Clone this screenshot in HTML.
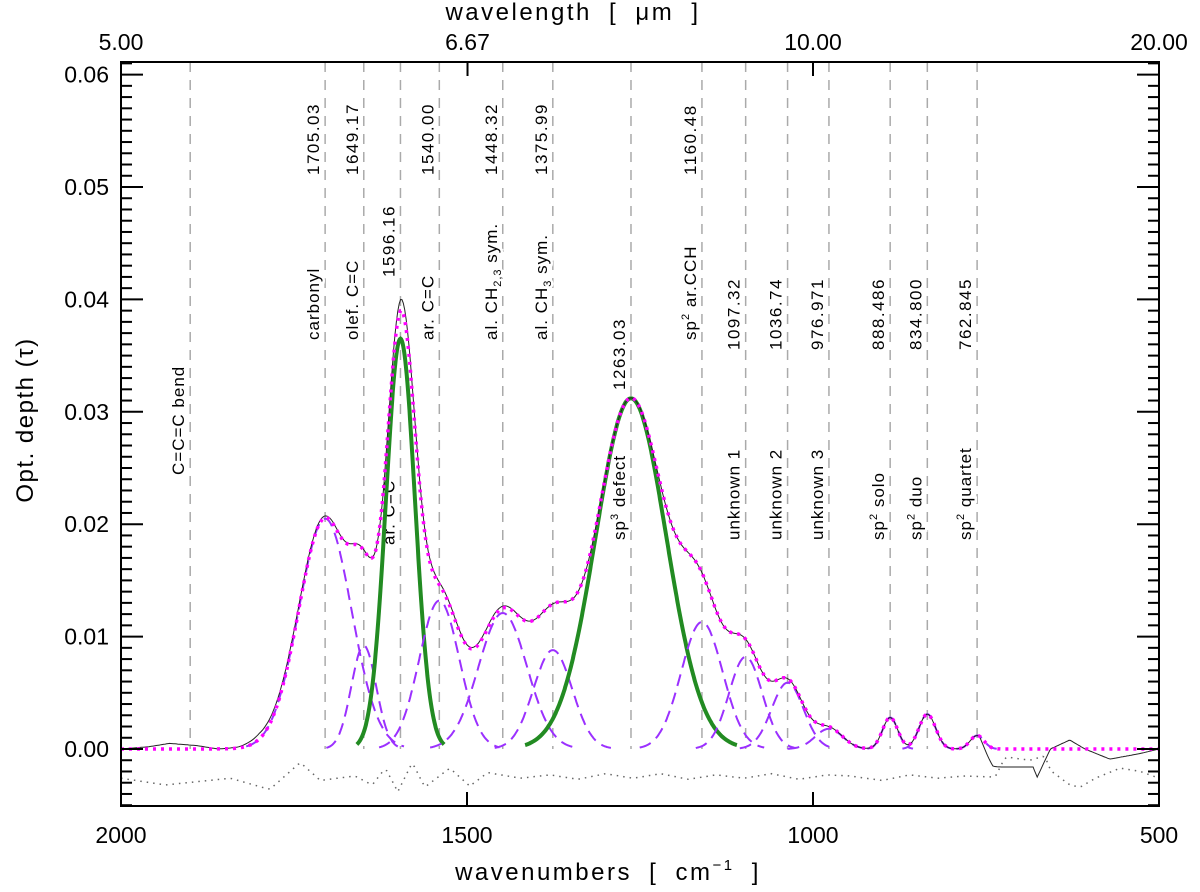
<!DOCTYPE html>
<html><head><meta charset="utf-8"><style>
html,body{margin:0;padding:0;background:#fff;}
svg{display:block;font-family:"Liberation Sans",sans-serif;}
</style></head><body>
<svg id="chart" width="1200" height="892" viewBox="0 0 1200 892" xmlns="http://www.w3.org/2000/svg"></svg>
<script>
// ---- data ----
const centers = [1705.03,1649.17,1596.16,1540.00,1448.32,1375.99,1263.03,1160.48,1097.32,1036.74,976.971,888.486,834.800,762.845];
const heights = [0.0205,0.0092,0.0365,0.0132,0.0121,0.0088,0.0312,0.0113,0.0082,0.0059,0.0018,0.0028,0.0031,0.0012];
const sigmas  = [38,18,21,29,35,28,51,30,24,23,20,11,12,10];
const isMain  = [0,0,1,0,0,0,1,0,0,0,0,0,0,0];
const obsWn    = [2000,1960,1930,1890,1860,1830,1800,1760,1720,1680,1620,1596,1560,1500,1460,1400,1300,1200,1100,1000,900,800,760,740,722,682,676,657,629,607,571,527,500];
const obsDelta = [0,0.0002,0.0005,0.0003,0,0.0001,0.0005,0.0004,0.0002,0.0001,0,0.001,0.0003,0.0001,0.0002,0,0,0,0,0,0,0,0,-0.0016,-0.0016,-0.0016,-0.0025,0,0.0008,0,-0.0009,-0.0004,0];
const resWn  = [2000,1936,1842,1785,1741,1712,1662,1637,1618,1600,1579,1561,1525,1496,1470,1423,1380,1340,1300,1260,1220,1180,1140,1100,1060,1020,980,947,900,860,820,780,737,722,686,665,657,629,614,592,556,527,500];
const resVal = [-0.0026,-0.0032,-0.0026,-0.0036,-0.0012,-0.0028,-0.0024,-0.0032,-0.0017,-0.0038,-0.0012,-0.0034,-0.0017,-0.0033,-0.0021,-0.0026,-0.0023,-0.0027,-0.0022,-0.0026,-0.0022,-0.0027,-0.0023,-0.0026,-0.0022,-0.0027,-0.0023,-0.0024,-0.0028,-0.0023,-0.0026,-0.0024,-0.0025,-0.0007,-0.001,-0.0006,-0.0019,-0.0032,-0.0034,-0.0026,-0.0017,-0.002,-0.0026];
const bottomTicks = [2000,1500,1000,500];
const topTicks = [5.00,6.67,10.00,20.00];
const yTicks = [0,0.01,0.02,0.03,0.04,0.05,0.06];
const labelWn = [1900,1705.03,1649.17,1596.16,1540.00,1448.32,1375.99,1263.03,1160.48,1097.32,1036.74,976.971,888.486,834.800,762.845];
const labelNum = ["","1705.03","1649.17","1596.16","1540.00","1448.32","1375.99","1263.03","1160.48","1097.32","1036.74","976.971","888.486","834.800","762.845"];
const labelName = ["C=C=C bend","carbonyl","olef. C=C","ar. C=C","ar. C=C","al. CH<tspan font-size='11' dy='4'>2,3</tspan><tspan dy='-4'> sym.</tspan>","al. CH<tspan font-size='11' dy='4'>3</tspan><tspan dy='-4'> sym.</tspan>","sp<tspan font-size='11' dy='-7'>3</tspan><tspan dy='7'> defect</tspan>","sp<tspan font-size='11' dy='-7'>2</tspan><tspan dy='7'> ar.CCH</tspan>","unknown 1","unknown 2","unknown 3","sp<tspan font-size='11' dy='-7'>2</tspan><tspan dy='7'> solo</tspan>","sp<tspan font-size='11' dy='-7'>2</tspan><tspan dy='7'> duo</tspan>","sp<tspan font-size='11' dy='-7'>2</tspan><tspan dy='7'> quartet</tspan>"];
const numBottom  = [0,175,175,277,175,175,175,390,175,350,350,350,350,350,350];
const nameBottom = [475,340,340,545,340,340,340,540,340,540,540,540,540,540,540];

// ---- axes ----
const L=121,R=1159,T=62,B=806;
const X = w => L + (2000-w)*(R-L)/1500;
const Y = v => 749 - v*11240;
const svg = document.getElementById('chart');
const NS='http://www.w3.org/2000/svg';
function mk(tag, attrs, parent){const e=document.createElementNS(NS,tag);for(const k in attrs)e.setAttribute(k,attrs[k]);(parent||svg).appendChild(e);return e;}
function interp(xs,ys,w){for(let i=0;i<xs.length-1;i++){const a=xs[i],b=xs[i+1];if((w<=a&&w>=b)){const t=(a-w)/(a-b);return ys[i]+t*(ys[i+1]-ys[i]);}}return ys[ys.length-1];}
const gauss=(i,w)=>heights[i]*Math.exp(-0.5*Math.pow((w-centers[i])/sigmas[i],2));
const model=w=>{let s=0;for(let i=0;i<centers.length;i++)s+=gauss(i,w);return s;};

// vertical dashed lines
labelWn.forEach((w,i)=>{
  const l=mk('line',{x1:X(w),x2:X(w),y1:T,y2:749,stroke:'#aaa','stroke-width':1.5,'stroke-dasharray':'10,8'});
  
  
});
// labels
labelWn.forEach((w,i)=>{
  const x=X(w)-6;
  if(labelNum[i]){
    const t=mk('text',{transform:`translate(${x},${numBottom[i]}) rotate(-90)`,'font-size':17,'letter-spacing':1.5,fill:'#000',stroke:'#fff','stroke-width':5,'paint-order':'stroke'});
    t.textContent=labelNum[i];
    
    
  }
  const n=mk('text',{transform:`translate(${x},${nameBottom[i]}) rotate(-90)`,'font-size':17,'letter-spacing':1,fill:'#000',stroke:'#fff','stroke-width':5,'paint-order':'stroke'});
  n.innerHTML=labelName[i];
  
  
});

// residual
let d='';
for(let w=2000;w>=500;w-=4){d+=(d?'L':'M')+X(w).toFixed(1)+','+Y(interp(resWn,resVal,w)).toFixed(1);}
const rp=mk('path',{d,fill:'none',stroke:'#666','stroke-width':1.5,'stroke-dasharray':'1.5,5'});



// components
centers.forEach((c,i)=>{
  let p='';
  const span=3;
  for(let w=c+span*sigmas[i];w>=c-span*sigmas[i];w-=1){p+=(p?'L':'M')+X(w).toFixed(1)+','+Y(gauss(i,w)).toFixed(1);}
  const e=mk('path',{d:p,fill:'none',stroke:isMain[i]?'#228b22':'#9b30ff','stroke-width':isMain[i]?4:2,'stroke-dasharray':isMain[i]?'none':'12,7'});
  
  
});

// observed
d='';
for(let w=2000;w>=500;w-=2){d+=(d?'L':'M')+X(w).toFixed(1)+','+Y(model(w)+interp(obsWn,obsDelta,w)).toFixed(1);}
const op=mk('path',{d,fill:'none',stroke:'#222','stroke-width':1});



// model sum
d='';
for(let w=2000;w>=500;w-=2){d+=(d?'L':'M')+X(w).toFixed(1)+','+Y(model(w)).toFixed(1);}
const mp=mk('path',{d,fill:'none',stroke:'#ff00ff','stroke-width':3.5,'stroke-dasharray':'3,5'});



// frame
const fr=mk('rect',{x:L,y:T,width:R-L,height:B-T,fill:'none',stroke:'#000','stroke-width':2});



// y ticks
for(let k=-5;k<=61;k++){
  const v=k*0.001,y=Y(v);if(y<T||y>B)continue;
  const len=(k%10===0)?22:11;
  mk('line',{x1:L,x2:L+len,y1:y,y2:y,stroke:'#000','stroke-width':2});
  mk('line',{x1:R,x2:R-len,y1:y,y2:y,stroke:'#000','stroke-width':2});
}
yTicks.forEach(v=>{
  const t=mk('text',{x:L-12,y:Y(v)+8,'font-size':23,'text-anchor':'end'});
  t.textContent=v.toFixed(2);
  
  
});
// bottom ticks
bottomTicks.forEach(w=>{
  mk('line',{x1:X(w),x2:X(w),y1:B,y2:B-14,stroke:'#000','stroke-width':2});
  const t=mk('text',{x:X(w),y:843,'font-size':23,'text-anchor':'middle'});
  t.textContent=w;
  
  
});
// top ticks
topTicks.forEach(um=>{
  const w=10000/um;
  mk('line',{x1:X(w),x2:X(w),y1:T,y2:T+14,stroke:'#000','stroke-width':2});
  const t=mk('text',{x:X(w),y:50,'font-size':23,'text-anchor':'middle'});
  t.textContent=um.toFixed(2);
  
  
});
const xt=mk('text',{x:608,y:880,'font-size':24,'text-anchor':'middle','letter-spacing':2.5,'word-spacing':8});
xt.innerHTML="wavenumbers [ cm<tspan font-size='15' dy='-10'>−1</tspan><tspan dy='10'> ]</tspan>";


const tt=mk('text',{x:573,y:20,'font-size':24,'text-anchor':'middle','letter-spacing':2.5,'word-spacing':8});
tt.textContent='wavelength [ μm ]';


const yt=mk('text',{transform:'translate(33,420) rotate(-90)','font-size':24,'text-anchor':'middle','letter-spacing':1.5});
yt.textContent='Opt. depth (τ)';


</script>
</body></html>
